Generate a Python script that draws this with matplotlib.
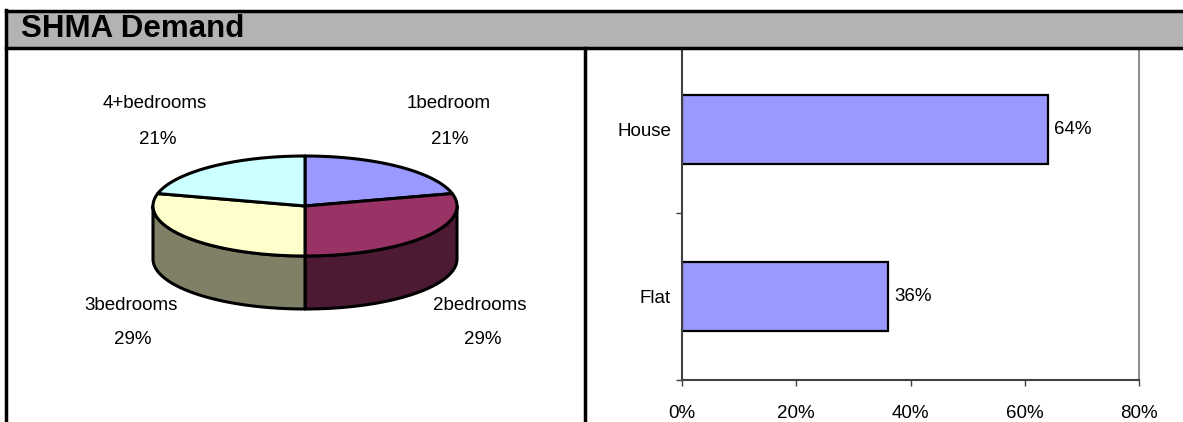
import numpy as np
import matplotlib
matplotlib.use("Agg")
import matplotlib.pyplot as plt
from matplotlib.patches import Polygon, Rectangle
from matplotlib.ticker import PercentFormatter

plt.rcParams['font.family'] = ['Liberation Sans', 'DejaVu Sans']

# data
title = "SHMA Demand"
bedrooms = ["1bedroom", "2bedrooms", "3bedrooms", "4+bedrooms"]
bedroom_share = [0.21, 0.29, 0.29, 0.21]
types = ["Flat", "House"]
type_share = [0.36, 0.64]

# styling
top_colors = ["#9999FF", "#993366", "#FFFFCC", "#CCFFFF"]
side_colors = ["#5C5C99", "#4D1A33", "#808066", "#7A9999"]
# label anchors (pixels) for each slice: name line, pct line
label_pos = [((449, 104), (450, 139)),
             ((480, 305), (483, 340)),
             ((131, 305), (133, 340)),
             ((155, 104), (158, 139))]

W, H = 1183, 422
fig = plt.figure(figsize=(W / 100, H / 100), dpi=100)

# ---- bar chart (right panel)
ax = fig.add_axes([682 / W, (H - 380) / H, (1139 - 682) / W, (380 - 46) / H], zorder=1)
ypos = np.arange(len(types))
bars = ax.barh(ypos, type_share, height=0.41, color="#9999FF",
               edgecolor="black", linewidth=1.6)
for b, v in zip(bars, type_share):
    ax.text(b.get_width() + 0.012, b.get_y() + b.get_height() / 2,
            f"{v:.0%}", va="center", ha="left", fontsize=13.5)
ax.set_xlim(0, 0.8)
ax.set_ylim(-0.5, len(types) - 0.5)
ax.set_xticks(np.arange(0, 0.81, 0.2))
ax.xaxis.set_major_formatter(PercentFormatter(1.0, decimals=0))
ax.set_yticks(ypos)
ax.set_yticklabels(types)
ax.set_yticks(np.arange(-0.5, len(types)), minor=True)
ax.tick_params(axis="y", which="major", length=0, pad=8, labelsize=13.5)
ax.tick_params(axis="y", which="minor", length=4, width=1, color="#404040")
ax.tick_params(axis="x", length=4, width=1, color="#404040", pad=14, labelsize=13.5)
ax.spines["top"].set_visible(False)
ax.spines["left"].set_color("#404040")
ax.spines["bottom"].set_color("#404040")
ax.spines["left"].set_linewidth(1.5)
ax.spines["bottom"].set_linewidth(1.5)
ax.spines["right"].set_color("#909090")
ax.spines["right"].set_linewidth(1.5)

# ---- 3D pie (left panel), drawn in pixel coordinates
axp = fig.add_axes([0, 0, 585 / W, 1], zorder=2)
axp.set_xlim(0, 585)
axp.set_ylim(H, 0)
axp.axis("off")
cx, cy, rx, ry, depth = 305, 206, 152, 50, 53


def ell(t, dz=0):
    t = np.radians(t)
    return np.column_stack([cx + rx * np.cos(t), cy - ry * np.sin(t) + dz])


cum = np.concatenate([[0], np.cumsum(bedroom_share)])
angles = [(90 - cum[i + 1] * 360, 90 - cum[i] * 360) for i in range(len(bedroom_share))]

# side walls (front half only)
for (a1, a0), col in zip(angles, side_colors):
    lo, hi = max(a1, -180), min(a0, 0)
    if lo >= hi:
        continue
    t = np.linspace(lo, hi, 80)
    pts = np.vstack([ell(t), ell(t[::-1], depth)])
    axp.add_patch(Polygon(pts, closed=True, facecolor=col, edgecolor="black",
                          linewidth=2.2, joinstyle="round"))

# top face
for (a1, a0), col in zip(angles, top_colors):
    t = np.linspace(a0, a1, 120)
    pts = np.vstack([[cx, cy], ell(t)])
    axp.add_patch(Polygon(pts, closed=True, facecolor=col, edgecolor="black",
                          linewidth=2.2, joinstyle="round"))

for name, v, (p1, p2) in zip(bedrooms, bedroom_share, label_pos):
    axp.text(*p1, name, ha="center", va="center", fontsize=13.5)
    axp.text(*p2, f"{v:.0%}", ha="center", va="center", fontsize=13.5)

# ---- frame and header
ov = fig.add_axes([0, 0, 1, 1], zorder=5)
ov.set_xlim(0, W)
ov.set_ylim(H, 0)
ov.axis("off")
ov.patch.set_alpha(0)
ov.add_patch(Rectangle((6, 10), W, 38, facecolor="#B3B3B3", edgecolor="none"))
ov.plot([6, W], [10.5, 10.5], color="black", lw=2.5)
ov.plot([6, W], [48, 48], color="black", lw=2.5)
ov.plot([6, 6], [10, H], color="black", lw=2.5)
ov.plot([585, 585], [48, H], color="black", lw=2.5)
ov.text(21, 37, title, ha="left", va="baseline", fontsize=22.5, fontweight="bold")

fig.savefig("out.png", dpi=100)
